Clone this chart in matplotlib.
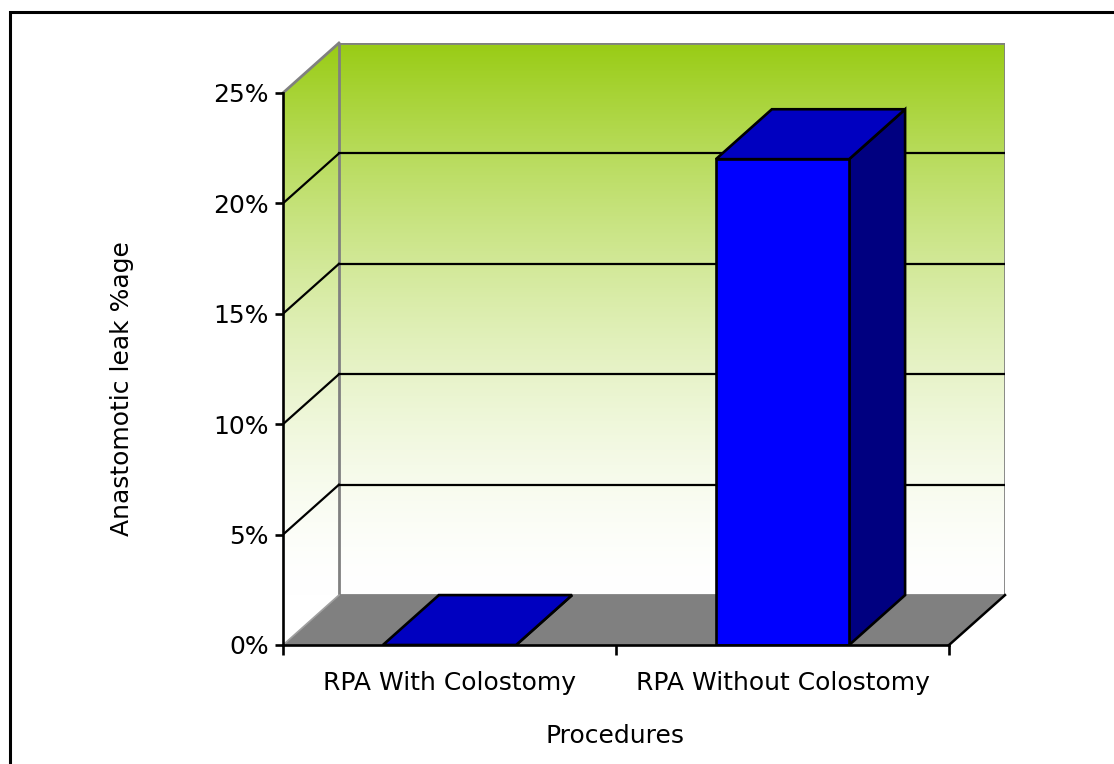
import matplotlib
matplotlib.use("Agg")
import matplotlib.pyplot as plt
from matplotlib.patches import Polygon, Rectangle
import numpy as np

categories = ["RPA With Colostomy", "RPA Without Colostomy"]
leak_pct = [0, 22]
y_ticks = [0, 5, 10, 15, 20, 25]
y_tick_labels = ["0%", "5%", "10%", "15%", "20%", "25%"]

# fake 3d depth, in data units
DX = 0.168
DY = 2.26
BAR_W = 0.4
YMAX = 25

FONT = 18
plt.rcParams['font.family'] = 'DejaVu Sans'

fig = plt.figure(figsize=(11.14, 7.64), dpi=100)
ax = fig.add_axes([283 / 1114, 119 / 764, 722 / 1114, 602 / 764])
ax.set_xlim(0, len(categories) + DX)
ax.set_ylim(0, YMAX + DY)
ax.patch.set_visible(False)
for s in ax.spines.values():
    s.set_visible(False)
ax.set_autoscale_on(False)

ncat = len(categories)

# walls: green to white gradient, clipped to left + back wall
yy = np.linspace(0, YMAX + DY, 400)
t = np.clip((yy - DY) / YMAX, 0, 1) ** 1.6
t = t[:, None]
green = np.array([0.6, 0.8, 0.08])
grad = (1 - t) * np.ones(3) + t * green
img = ax.imshow(grad[:, None, :], extent=(0, ncat + DX, 0, YMAX + DY),
                origin='lower', aspect='auto', zorder=0, interpolation='bilinear')
walls = Polygon([(0, 0), (DX, DY), (ncat + DX, DY), (ncat + DX, YMAX + DY),
                 (DX, YMAX + DY), (0, YMAX)], closed=True,
                transform=ax.transData, facecolor='none', edgecolor='none')
img.set_clip_path(walls)

# wall outlines
ax.add_patch(Polygon([(DX, DY), (ncat + DX, DY), (ncat + DX, YMAX + DY), (DX, YMAX + DY)],
                     closed=True, fill=False, edgecolor='#808080', lw=2, zorder=1))
ax.plot([0, DX], [YMAX, YMAX + DY], color='#808080', lw=2, zorder=1, clip_on=False)

# gridlines on back wall and left wall
for v in y_ticks[1:-1]:
    ax.plot([DX, ncat + DX], [v + DY, v + DY], color='black', lw=1.6, zorder=2)
    ax.plot([0, DX], [v, v + DY], color='black', lw=1.6, zorder=2)

# floor
ax.add_patch(Polygon([(0, 0), (ncat, 0), (ncat + DX, DY), (DX, DY)], closed=True,
                     facecolor='#808080', edgecolor='none', zorder=3))
ax.plot([0, DX], [0, DY], color='#a0a0a0', lw=1.2, zorder=3)
ax.plot([ncat, ncat + DX], [0, DY], color='black', lw=1.8, zorder=3, clip_on=False)

# bars
xpos = np.arange(ncat) + 0.5
for x, v in zip(xpos, leak_pct):
    x0 = x - BAR_W / 2
    x1 = x + BAR_W / 2
    ax.add_patch(Polygon([(x1, 0), (x1 + DX, DY), (x1 + DX, v + DY), (x1, v)], closed=True,
                         facecolor='#000080', edgecolor='black', lw=1.9, zorder=4,
                         joinstyle='miter'))
    ax.add_patch(Polygon([(x0, v), (x1, v), (x1 + DX, v + DY), (x0 + DX, v + DY)], closed=True,
                         facecolor='#0000C0', edgecolor='black', lw=1.9, zorder=4,
                         joinstyle='miter'))
ax.bar(xpos, leak_pct, width=BAR_W, color='#0000FF', edgecolor='black', lw=1.9, zorder=5)

# front axis lines
ax.plot([0, 0], [0, YMAX], color='black', lw=1.9, zorder=6, clip_on=False)
ax.plot([0, ncat], [0, 0], color='black', lw=1.9, zorder=6, clip_on=False)

ax.set_yticks(y_ticks)
ax.set_yticklabels(y_tick_labels, fontsize=FONT)
ax.tick_params(axis='y', direction='out', length=6, width=1.9, pad=4)

ax.set_xticks(np.arange(ncat + 1))
ax.set_xticklabels([])
ax.tick_params(axis='x', which='major', direction='out', length=7, width=1.9)
ax.set_xticks(xpos, minor=True)
ax.set_xticklabels(categories, minor=True, fontsize=FONT)
ax.tick_params(axis='x', which='minor', length=0, pad=19)

fig.text(122 / 1114, 1 - 389 / 764, "Anastomotic leak %age", rotation=90,
         ha='center', va='center', fontsize=FONT)
fig.text(615 / 1114, 1 - 736 / 764, "Procedures", ha='center', va='center', fontsize=FONT)

# outer frame (runs off the right and bottom edges)
fig.add_artist(Rectangle((9.5 / 1114, -0.1), 1.2, 1.1 - 12.5 / 764, transform=fig.transFigure,
                         fill=False, edgecolor='black', lw=2.2, clip_on=False))

fig.savefig("out.png", dpi=100)
